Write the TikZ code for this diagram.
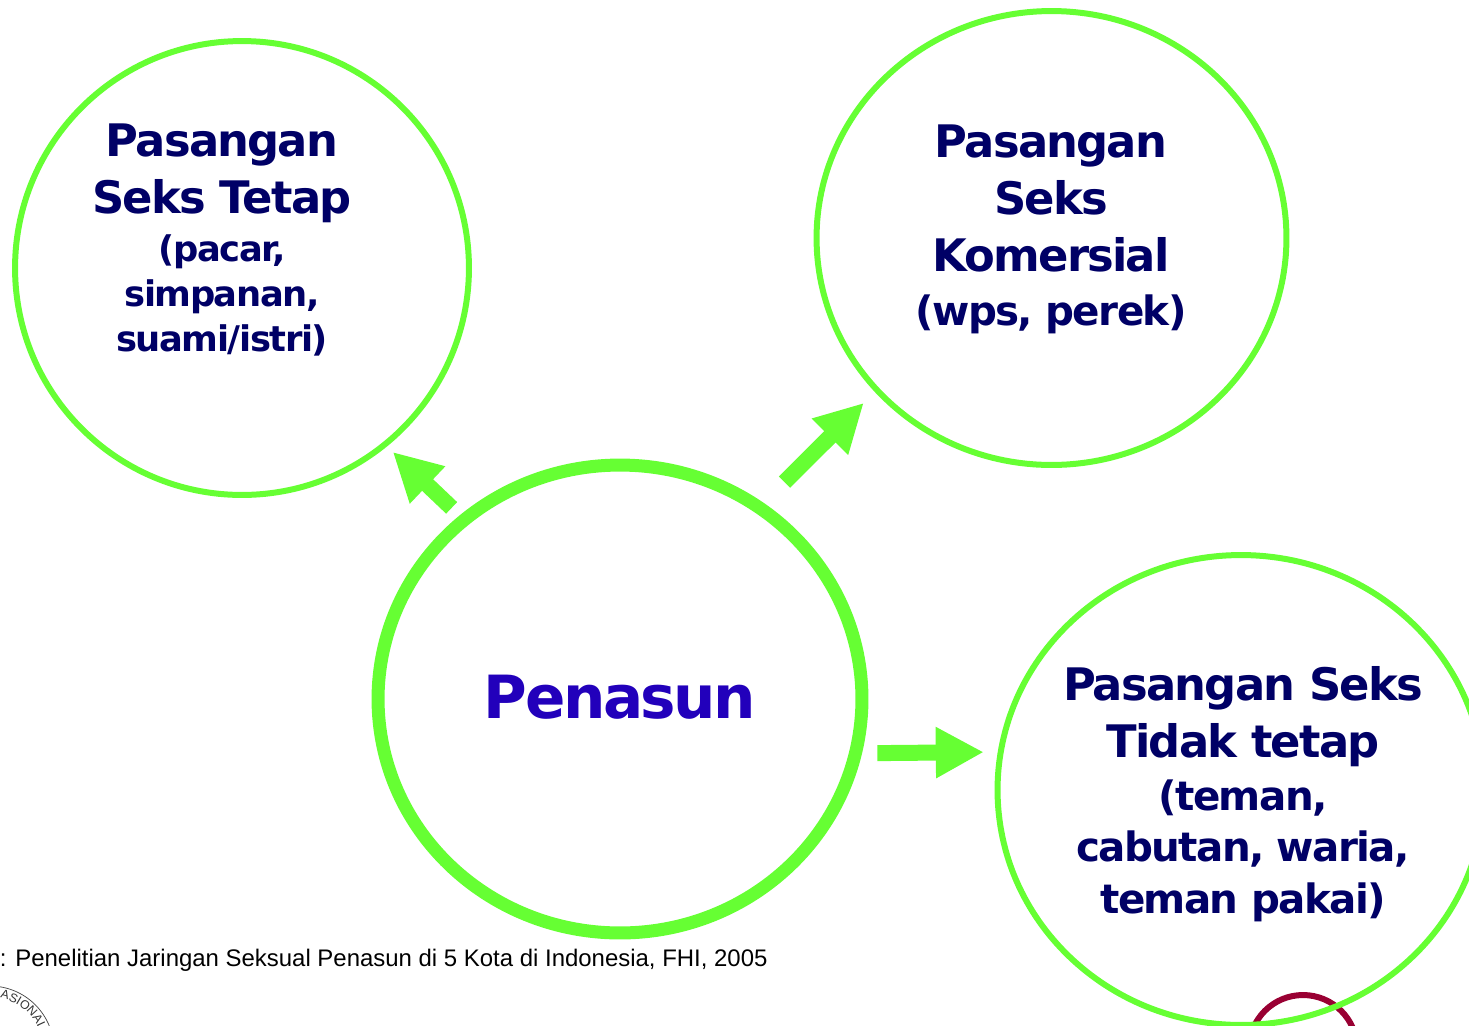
\documentclass[tikz,border=0pt]{standalone}
\usepackage{fontspec}
\setmainfont{Liberation Sans}
\newfontfamily\boldface[LetterSpace=-4]{DejaVu Sans Bold}
\usetikzlibrary{arrows.meta,decorations.text,shapes.geometric}
\definecolor{ringgreen}{HTML}{66FF33}
\definecolor{titlenavy}{HTML}{000066}
\definecolor{corepurple}{HTML}{2200BB}
\definecolor{sealred}{HTML}{990033}
\newcommand{\bigtext}{\fontsize{25.5}{32.4}\selectfont}
\newcommand{\midtext}{\fontsize{23}{32.4}\selectfont}
\newcommand{\smalltext}{\fontsize{20.1}{32.4}\selectfont}
\tikzset{
	ring/.style={ellipse,draw=ringgreen,line width=0.12cm,inner sep=0pt,outer sep=0pt},
	title/.style={align=center,text=titlenavy,font=\boldface\fontsize{25.5}{32.4}\selectfont,inner sep=0pt},
	flow/.style={-{Triangle[length=0.96cm,width=0.96cm]},draw=ringgreen,line width=0.32cm}
}

\begin{document}
\begin{tikzpicture}[x=0.02cm,y=-0.02cm]
	\path[use as bounding box] (0,0) rectangle (1469,1025);
	
	% what shows of the page furniture
	\coordinate (seal_c) at (-10,1050);
	\coordinate (mark_c) at (1303,1049);
	\draw[black!70,line width=0.015cm] (seal_c) circle [radius=1.28cm];
	\path[decorate,decoration={text along path,text align=center,
		text={|\fontsize{7}{7}\selectfont\color{black!80}|NASIONAL}}]
		(-10,997) arc [start angle=90,end angle=20,radius=1.06cm];
	\draw[sealred,line width=0.12cm] (mark_c) circle [radius=1.08cm];
	
	\node[ring,minimum width=9.08cm,minimum height=9.08cm] (tetap) at (242,268) {};
	\node[ring,minimum width=9.4cm,minimum height=9.08cm] (komersial) at (1051.5,238) {};
	\node[ring,minimum width=9.74cm,minimum height=9.4cm] (tidak) at (1241,790) {};
	\node[ring,line width=0.26cm,minimum width=9.68cm,minimum height=9.36cm] (penasun) at (620,699) {};
	
	\node[title] (tetap_t) at (222,240) {\bigtext Pasangan\\\bigtext Seks Tetap\\[-5pt]\smalltext (pacar,\\[-7pt]\smalltext simpanan,\\[-6.8pt]\smalltext suami/istri)};
	\node[title] (komersial_t) at (1051,229.5) {\bigtext Pasangan\\\bigtext Seks\\\bigtext Komersial\\[-1.5pt]\midtext (wps, perek)};
	\node[title] (tidak_t) at (1243,794) {\bigtext Pasangan Seks\\\bigtext Tidak tetap\\[-2.2pt]\midtext (teman,\\[-3.2pt]\midtext cabutan, waria,\\[-3.2pt]\midtext teman pakai)};
	\node[text=corepurple,font=\boldface\fontsize{33.9}{42}\selectfont,inner sep=0pt] (penasun_t) at (620,697) {Penasun};
	
	\node[anchor=base west,inner sep=0pt,font=\fontsize{13.63}{16}\selectfont] (source) at (-0.5,966) {: Penelitian Jaringan Seksual Penasun di 5 Kota di Indonesia, FHI, 2005};
	
	\draw[flow,shorten <=0.35cm,shorten >=0.22cm] (penasun.131.2) -- (tetap.309.7);
	\draw[flow,shorten <=0.72cm,shorten >=0.37cm] (penasun.54.5) -- (komersial.221);
	\draw[flow,shorten <=0.44cm,shorten >=0.34cm] (penasun.347.65) -- (tidak.171.07);
\end{tikzpicture}
\end{document}
